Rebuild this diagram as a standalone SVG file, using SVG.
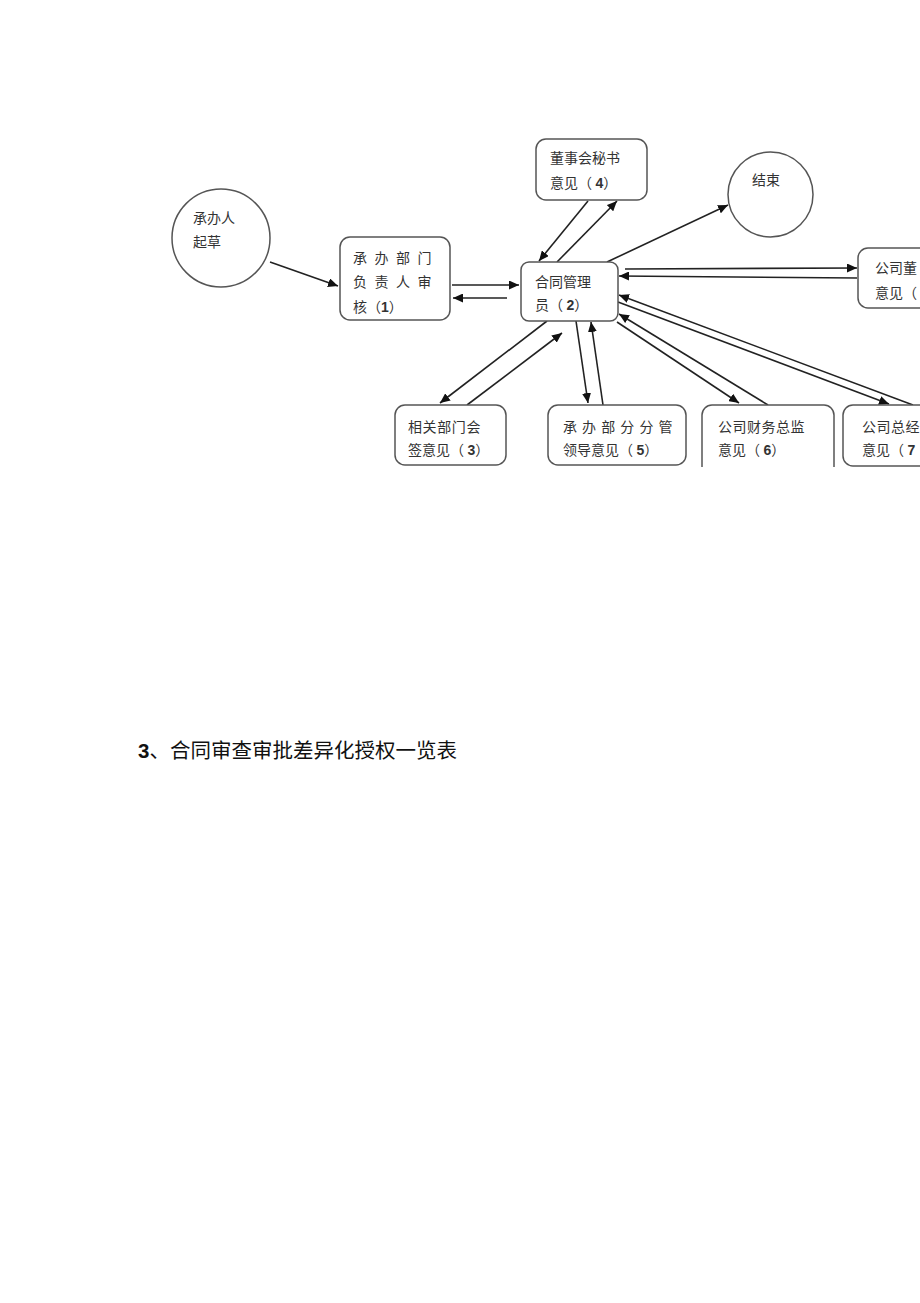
<svg xmlns="http://www.w3.org/2000/svg" width="920" height="1303" viewBox="0 0 920 1303">
<style>
.nd{fill:#fff;stroke:#555;stroke-width:1.5}
.t{font-family:"Liberation Serif","Noto Sans CJK SC",serif;font-size:14px;fill:#333}
.b{font-family:"Liberation Sans",Arial,sans-serif;font-weight:bold}
.c{stroke:#222;stroke-width:1.6;fill:none;marker-end:url(#ah)}
.h{font-family:"Liberation Sans","Noto Sans CJK SC",sans-serif;font-size:20.5px;fill:#111}
</style>
<defs>
<marker id="ah" markerUnits="userSpaceOnUse" markerWidth="11" markerHeight="9" refX="10" refY="4.5" orient="auto">
<path d="M0,0 L10,4.5 L0,9 z" fill="#111"/>
</marker>
</defs>
<rect width="920" height="1303" fill="#fff"/>

<g id="connectors">
<line class="c" x1="270" y1="262" x2="338" y2="286"/>
<line class="c" x1="452" y1="285" x2="519" y2="285"/>
<line class="c" x1="507" y1="298" x2="453" y2="298"/>
<line class="c" x1="588" y1="201" x2="539" y2="261"/>
<line class="c" x1="557" y1="262" x2="617" y2="201"/>
<line class="c" x1="607" y1="262" x2="728" y2="205"/>
<line class="c" x1="625" y1="269" x2="857" y2="268"/>
<line class="c" x1="857" y1="278" x2="619" y2="276"/>
<line class="c" x1="913" y1="405" x2="619" y2="295"/>
<line class="c" x1="618" y1="302" x2="889" y2="404"/>
<line class="c" x1="768" y1="405" x2="619" y2="314"/>
<line class="c" x1="617" y1="322" x2="739" y2="403"/>
<line class="c" x1="547" y1="321" x2="440" y2="403"/>
<line class="c" x1="467" y1="405" x2="562" y2="333"/>
<line class="c" x1="576" y1="321" x2="588" y2="403"/>
<line class="c" x1="603" y1="405" x2="591" y2="322"/>
</g>

<g id="n-start">
<circle class="nd" cx="221" cy="238" r="49"/>
<text class="t" x="193" y="223">承办人</text>
<text class="t" x="193" y="247">起草</text>
</g>

<g id="n1">
<rect class="nd" x="340" y="237" width="110" height="83" rx="10"/>
<text class="t" x="353" y="263" letter-spacing="2">承 办 部 门</text>
<text class="t" x="353" y="287" letter-spacing="2">负 责 人 审</text>
<text class="t" x="353" y="312">核（<tspan class="b">1</tspan>）</text>
</g>

<g id="n2">
<rect class="nd" x="521" y="262" width="97" height="59" rx="8"/>
<text class="t" x="535" y="287">合同管理</text>
<text class="t" x="535" y="310">员（ <tspan class="b">2</tspan>）</text>
</g>

<g id="n4">
<rect class="nd" x="536" y="139" width="111" height="61" rx="10"/>
<text class="t" x="550" y="163">董事会秘书</text>
<text class="t" x="550" y="188">意见（ <tspan class="b">4</tspan>）</text>
</g>

<g id="n-end">
<circle class="nd" cx="770.5" cy="194.5" r="42.5"/>
<text class="t" x="752" y="185">结束</text>
</g>

<g id="n8">
<rect class="nd" x="858" y="248" width="90" height="60" rx="10"/>
<text class="t" x="875" y="273">公司董</text>
<text class="t" x="875" y="298">意见（</text>
</g>

<g id="n3">
<rect class="nd" x="395" y="405" width="111" height="60" rx="10"/>
<text class="t" x="408" y="432" letter-spacing="0.6">相关部门会</text>
<text class="t" x="408" y="455">签意见（ <tspan class="b">3</tspan>）</text>
</g>

<g id="n5">
<rect class="nd" x="548" y="405" width="138" height="60" rx="10"/>
<text class="t" x="563" y="432" letter-spacing="0.8">承 办 部 分 分 管</text>
<text class="t" x="563" y="455">领导意见（  <tspan class="b">5</tspan>）</text>
</g>

<g id="n6">
<path class="nd" d="M702,467 V415 A10,10 0 0 1 712,405 H824 A10,10 0 0 1 834,415 V467"/>
<text class="t" x="718" y="432" letter-spacing="0.5">公司财务总监</text>
<text class="t" x="718" y="455">意见（ <tspan class="b">6</tspan>）</text>
</g>

<g id="n7">
<rect class="nd" x="843" y="405" width="100" height="61" rx="10"/>
<text class="t" x="862" y="432" letter-spacing="0.5">公司总经</text>
<text class="t" x="862" y="455">意见（ <tspan class="b">7</tspan></text>
</g>

<text class="h" x="138" y="758"><tspan font-weight="bold">3</tspan>、合同审查审批差异化授权一览表</text>
</svg>
